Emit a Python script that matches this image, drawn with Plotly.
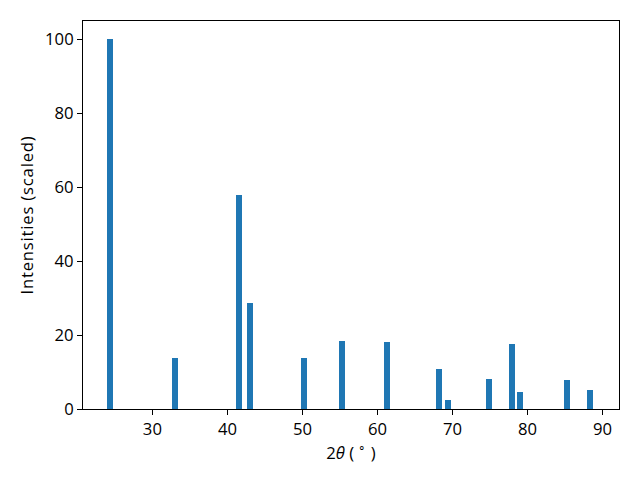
import plotly.graph_objects as go

two_theta = [24.35, 33.0, 41.5, 43.0, 50.15, 55.3, 61.3, 68.2, 69.45, 74.9, 77.9, 79.0, 85.25, 88.3]
intensity = [100, 13.8, 58.0, 28.7, 13.8, 18.4, 18.2, 10.8, 2.4, 8.1, 17.6, 4.6, 7.9, 5.1]
x_ticks = [30, 40, 50, 60, 70, 80, 90]
y_ticks = [0, 20, 40, 60, 80, 100]

fig = go.Figure(go.Bar(x=two_theta, y=intensity, width=0.8,
                       marker=dict(color="#1f77b4", line=dict(width=0))))

font = dict(family="Open Sans", size=16.67, color="black")
axis_common = dict(showline=True, linecolor="black", linewidth=1, mirror=True,
                   ticks="outside", ticklen=5, tickwidth=1, tickcolor="black",
                   showgrid=False, zeroline=False, tickfont=font)
fig.update_layout(
    width=640, height=480,
    margin=dict(l=83, r=21, t=21, b=71),
    paper_bgcolor="white", plot_bgcolor="white",
    font=font, showlegend=False, bargap=0,
    xaxis=dict(range=[20.75, 92.2], tickvals=x_ticks,
               title=dict(text="2<i>θ</i> ( <sup>∘</sup> )", font=font, standoff=3), **axis_common),
    yaxis=dict(range=[0, 105], tickvals=y_ticks,
               title=dict(text="Intensities (scaled)", font=font, standoff=7), **axis_common),
)
post = ("document.body.style.margin='0px';document.body.style.padding='0px';"
        "document.querySelectorAll('.ytitle').forEach(function(e){e.style.letterSpacing='0.8px';});")
fig.write_html("out.html", config={"displayModeBar": False}, post_script=post)
